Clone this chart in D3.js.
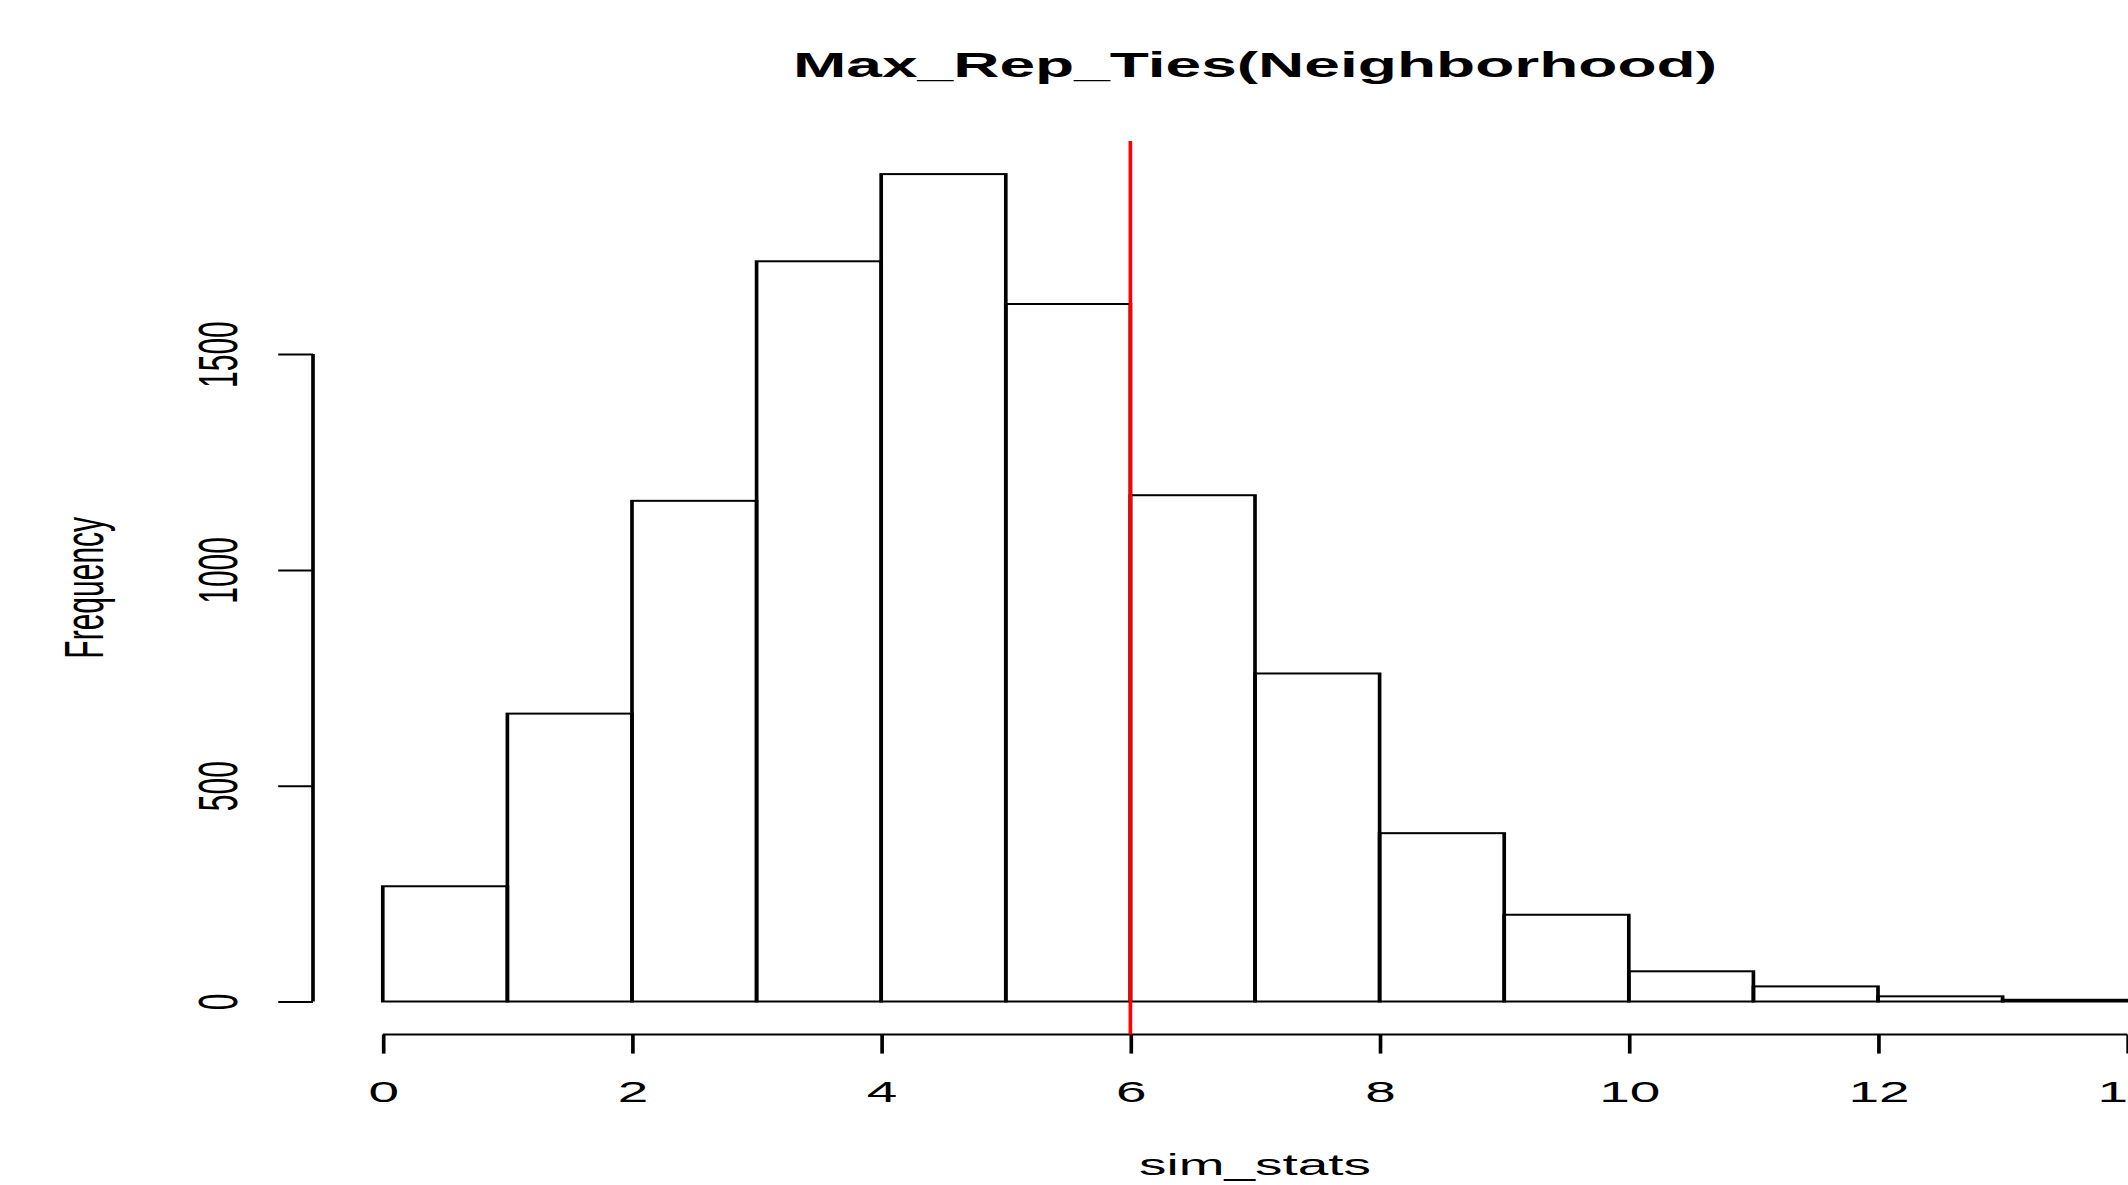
<!DOCTYPE html>
<html>
<head>
<meta charset="utf-8">
<script src="https://cdn.jsdelivr.net/npm/d3@7"></script>
<style>
  body { margin: 0; background: #fff; }
  svg { display: block; }
  text { font-family: "Liberation Sans", Arial, sans-serif; fill: #000; }
</style>
</head>
<body>
<svg id="chart" width="2128" height="1185"></svg>
<script>
// histogram of sim_stats
var breaks = [0, 1, 2, 3, 4, 5, 6, 7, 8, 9, 10, 11, 12, 13, 14];
var counts = [267, 667, 1160, 1715, 1917, 1616, 1173, 760, 390, 201, 70, 35, 12, 4];
var xTicks = [0, 2, 4, 6, 8, 10, 12, 14];
var yTicks = [0, 500, 1000, 1500];
var observed = 6;

var titleText = "Max_Rep_Ties(Neighborhood)";
var xLabel = "sim_stats";
var yLabel = "Frequency";

// the picture is stretched sideways, so draw narrow and scale the group
var S = 1.83;
var width = 2128, height = 1185;

var svg = d3.select("#chart");
var g = svg.append("g").attr("transform", "scale(" + S + ",1)");

// R style limits: range extended by 4%
var xMin = d3.min(breaks), xMax = d3.max(breaks);
var xPad = (xMax - xMin) * 0.04;
var yMax = d3.max(counts);
var yPad = yMax * 0.04;

var x = d3.scaleLinear()
    .domain([xMin - xPad, xMax + xPad])
    .range([313 / S, 2197 / S]);
var y = d3.scaleLinear()
    .domain([-yPad, yMax + yPad])
    .range([1034.6, 141]);

var lw = 2;

// bars
var bins = counts.map(function (c, i) { return { x0: breaks[i], x1: breaks[i + 1], n: c }; });
g.selectAll("rect.bar")
    .data(bins)
    .enter()
    .append("rect")
    .attr("class", "bar")
    .attr("x", function (d) { return x(d.x0); })
    .attr("y", function (d) { return y(d.n); })
    .attr("width", function (d) { return x(d.x1) - x(d.x0); })
    .attr("height", function (d) { return y(0) - y(d.n); })
    .attr("fill", "none")
    .attr("stroke", "#000")
    .attr("stroke-width", lw);

// x axis
var xAxis = g.append("g")
    .attr("transform", "translate(0," + y(-yPad) + ")")
    .call(d3.axisBottom(x).tickValues(xTicks).tickSize(19).tickSizeOuter(0).tickFormat(d3.format("d")));
xAxis.select(".domain").attr("d", "M" + x(xTicks[0]) + ",0H" + x(xTicks[xTicks.length - 1]));
xAxis.selectAll("path, line").attr("stroke", "#000").attr("stroke-width", lw);
xAxis.selectAll("text")
    .attr("y", 67.4).attr("dy", null)
    .attr("font-size", 30)
    .attr("fill", "#000")
    .style("font-family", "'Liberation Sans', Arial, sans-serif");

// y axis
var yAxis = g.append("g")
    .attr("transform", "translate(" + x(xMin - xPad) + ",0)")
    .call(d3.axisLeft(y).tickValues(yTicks).tickSize(19).tickSizeOuter(0).tickFormat(d3.format("d")));
yAxis.select(".domain").attr("d", "M0," + y(yTicks[0]) + "V" + y(yTicks[yTicks.length - 1]));
yAxis.selectAll("path, line").attr("stroke", "#000").attr("stroke-width", lw);
yAxis.selectAll("text")
    .attr("x", 0).attr("dy", null)
    .attr("y", -41.5)
    .attr("transform", "rotate(-90)")
    .attr("text-anchor", "middle")
    .attr("font-size", 30)
    .attr("fill", "#000")
    .style("font-family", "'Liberation Sans', Arial, sans-serif");

// observed value
g.append("line")
    .attr("x1", x(observed)).attr("x2", x(observed))
    .attr("y1", y(yMax + yPad)).attr("y2", y(-yPad))
    .attr("stroke", "#ff0000")
    .attr("stroke-width", lw);

// labels
var cx = (x.range()[0] + x.range()[1]) / 2;
g.append("text")
    .attr("x", cx).attr("y", 77)
    .attr("text-anchor", "middle")
    .attr("font-size", 35)
    .attr("font-weight", "bold")
    .text(titleText);

g.append("text")
    .attr("x", cx).attr("y", 1175)
    .attr("text-anchor", "middle")
    .attr("font-size", 30)
    .text(xLabel);

var cy = (y.range()[0] + y.range()[1]) / 2;
g.append("text")
    .attr("transform", "translate(" + (103 / S) + "," + cy + ") rotate(-90)")
    .attr("text-anchor", "middle")
    .attr("font-size", 30)
    .text(yLabel);
</script>
</body>
</html>
